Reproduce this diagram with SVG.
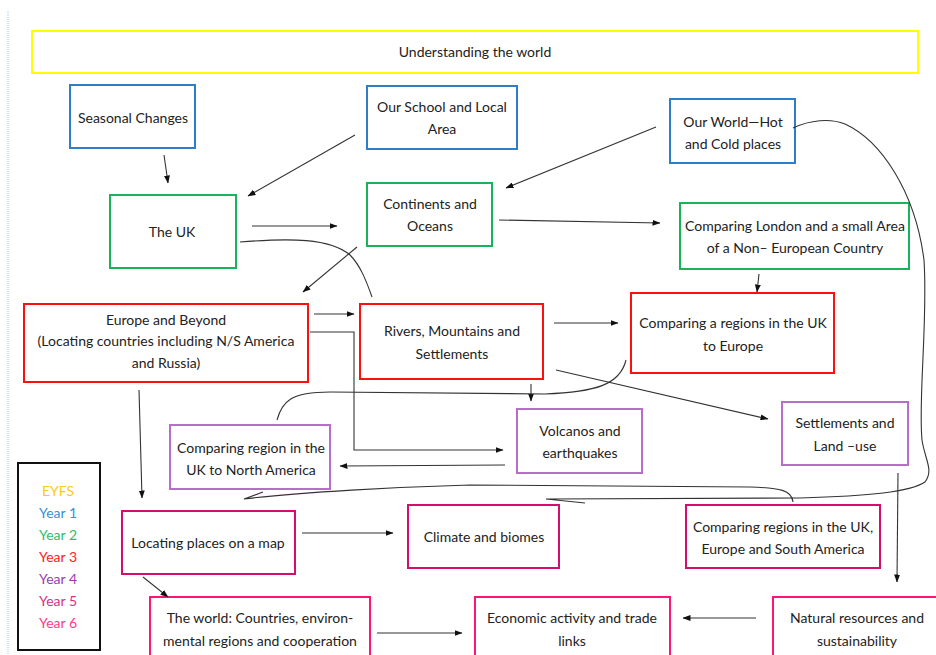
<svg xmlns="http://www.w3.org/2000/svg" width="936" height="655" viewBox="0 0 936 655">
<defs>
<marker id="ah" viewBox="0 0 8 6" refX="7.5" refY="3" markerWidth="8" markerHeight="6" markerUnits="userSpaceOnUse" orient="auto">
<path d="M0,0 L8,3 L0,6 z" fill="#111"/>
</marker>
<style>
text{font-family:Lato,"Open Sans","Liberation Sans",sans-serif;font-size:14px;fill:#222;text-anchor:middle}
rect{fill:#fff;stroke-width:2}
.y0{stroke:#FFFF00}
.y1{stroke:#2E7DC8}
.y2{stroke:#18B35A}
.y3{stroke:#FF1010}
.y4{stroke:#B56FC9}
.y5{stroke:#D60D6E}
.y6{stroke:#FF1478}
.c path,.c line,.c polyline{fill:none;stroke:#333;stroke-width:1.1}
.a{marker-end:url(#ah)}
</style>
</defs>
<rect x="0" y="0" width="936" height="655" style="fill:#fff;stroke:none"/>
<line x1="8" y1="11" x2="8" y2="655" stroke="#9CC8F0" stroke-width="1" stroke-dasharray="1,1"/>

<g id="n-understanding"><rect class="y0" x="32" y="31" width="886" height="42"/><text x="475" y="57">Understanding the world</text></g>
<g id="n-seasonal"><rect class="y1" x="70" y="85" width="125" height="63"/><text x="133" y="123">Seasonal Changes</text></g>
<g id="n-school"><rect class="y1" x="367" y="86" width="150" height="63"/><text x="442" y="112">Our School and Local</text><text x="442" y="134">Area</text></g>
<g id="n-ourworld"><rect class="y1" x="670" y="99" width="125" height="64"/><text x="733" y="127">Our World—Hot</text><text x="733" y="149">and Cold places</text></g>
<g id="n-uk"><rect class="y2" x="110" y="195" width="126" height="73"/><text x="172" y="237">The UK</text></g>
<g id="n-continents"><rect class="y2" x="367" y="183" width="125" height="63"/><text x="430" y="209">Continents and</text><text x="430" y="231">Oceans</text></g>
<g id="n-london"><rect class="y2" x="680" y="203" width="229" height="66"/><text x="795" y="231">Comparing London and a small Area</text><text x="795" y="253">of a Non– European Country</text></g>
<g id="n-europe"><rect class="y3" x="24" y="304" width="284" height="78"/><text x="166" y="325">Europe and Beyond</text><text x="166" y="346">(Locating countries including N/S America</text><text x="166" y="368">and Russia)</text></g>
<g id="n-rivers"><rect class="y3" x="360" y="304" width="183" height="75"/><text x="452" y="336">Rivers, Mountains and</text><text x="452" y="359">Settlements</text></g>
<g id="n-ukeurope"><rect class="y3" x="631" y="293" width="203" height="80"/><text x="733" y="328">Comparing a regions in the UK</text><text x="733" y="351">to Europe</text></g>
<g id="n-volcanos"><rect class="y4" x="517" y="409" width="125" height="64"/><text x="580" y="436">Volcanos and</text><text x="580" y="458">earthquakes</text></g>
<g id="n-landuse"><rect class="y4" x="782" y="402" width="126" height="63"/><text x="845" y="428">Settlements and</text><text x="845" y="451">Land –use</text></g>
<g id="n-northamerica"><rect class="y4" x="170" y="425" width="160" height="64"/><text x="251" y="453">Comparing region in the</text><text x="251" y="475">UK to North America</text></g>
<g id="n-legend"><rect x="18" y="463" width="82" height="187" style="stroke:#111"/>
<text x="58" y="496" style="fill:#FFC820">EYFS</text>
<text x="58" y="518" style="fill:#3A8FD8">Year 1</text>
<text x="58" y="540" style="fill:#2DBE6C">Year 2</text>
<text x="58" y="562" style="fill:#FF2020">Year 3</text>
<text x="58" y="584" style="fill:#9A3DB0">Year 4</text>
<text x="58" y="606" style="fill:#D63384">Year 5</text>
<text x="58" y="628" style="fill:#FF3A8C">Year 6</text></g>
<g id="n-locating"><rect class="y5" x="122" y="511" width="173" height="63"/><text x="208" y="548">Locating places on a map</text></g>
<g id="n-climate"><rect class="y5" x="408" y="505" width="151" height="63"/><text x="484" y="542">Climate and biomes</text></g>
<g id="n-southamerica"><rect class="y5" x="686" y="505" width="194" height="63"/><text x="783" y="532">Comparing regions in the UK,</text><text x="783" y="554">Europe and South America</text></g>
<g id="n-theworld"><rect class="y6" x="150" y="597" width="220" height="70"/><text x="260" y="623">The world: Countries, environ-</text><text x="260" y="646">mental regions and cooperation</text></g>
<g id="n-economic"><rect class="y6" x="475" y="597" width="195" height="70"/><text x="572" y="623">Economic activity and trade</text><text x="572" y="646">links</text></g>
<g id="n-natural"><rect class="y6" x="773" y="597" width="180" height="70"/><text x="857" y="623">Natural resources and</text><text x="857" y="646">sustainability</text></g>

<g id="connectors" class="c">
<line class="a" x1="164" y1="155" x2="168" y2="183"/>
<line class="a" x1="355" y1="135" x2="248" y2="196"/>
<line class="a" x1="252" y1="226" x2="337" y2="226"/>
<line class="a" x1="357" y1="247" x2="303" y2="292"/>
<line class="a" x1="656" y1="127" x2="506" y2="188"/>
<line class="a" x1="499" y1="220" x2="660" y2="223"/>
<line class="a" x1="759" y1="274" x2="757" y2="292"/>
<line class="a" x1="314" y1="314" x2="354" y2="314"/>
<line class="a" x1="554" y1="323" x2="618" y2="323"/>
<line class="a" x1="531" y1="384" x2="531" y2="401"/>
<line class="a" x1="556" y1="370" x2="768" y2="419"/>
<line class="a" x1="139" y1="390" x2="142" y2="498"/>
<polyline class="a" points="310,332 354,332 354,450 503,450"/>
<line class="a" x1="505" y1="465" x2="340" y2="466"/>
<line class="a" x1="302" y1="533" x2="393" y2="533"/>
<line class="a" x1="143" y1="577" x2="168" y2="597"/>
<line class="a" x1="377" y1="633" x2="462" y2="633"/>
<line class="a" x1="756" y1="618" x2="683" y2="618"/>
<line class="a" x1="898" y1="473" x2="897" y2="582"/>
<path d="M240,242 C290,238 330,238 350,255 C360,265 366,280 372,297"/>
<path d="M626,360 C620,385 595,392 545,394 L330,392 C290,392 282,402 277,420"/>
<path d="M793,128 C810,120 830,118 845,124 C880,140 915,190 924,260 C928,320 918,400 922,440 C925,460 934,470 925,482 C910,492 870,496 800,498 L546,499 L585,503"/>
<path d="M793,502 C792,490 780,488 750,487 L470,485 C400,487 300,492 244,499 L263,492"/>
</g>
</svg>
